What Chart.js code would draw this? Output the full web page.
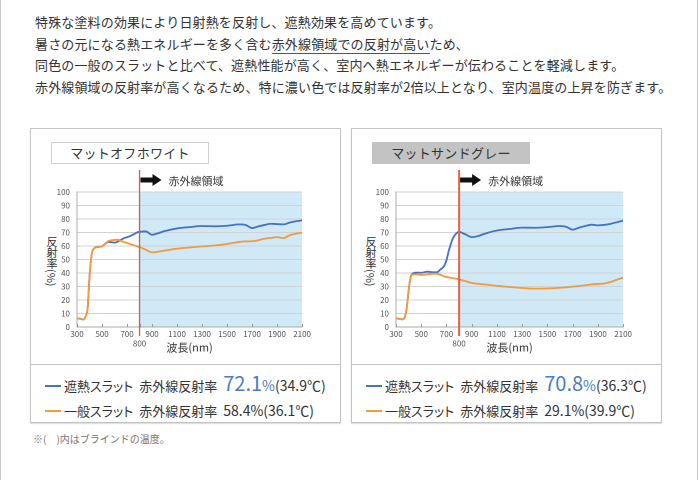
<!DOCTYPE html>
<html lang="ja">
<head>
<meta charset="utf-8">
<script src="https://cdn.jsdelivr.net/npm/chart.js@4"></script>
<style>
  body { margin: 0; background: #fff; font-family: "Noto Sans CJK JP", "Noto Sans", sans-serif; color: #333; }
  #page { position: relative; width: 696px; height: 480px; border-left: 1px solid #c8c8c8; border-right: 1px solid #c8c8c8; overflow: hidden; }
  #intro { position: absolute; left: 34px; top: 11px; font-size: 13px; letter-spacing: 0.15px; line-height: 21.7px; margin: 0; white-space: nowrap; }
  #intro u { text-decoration: none; border-bottom: 1px solid #555; }
  .panel { position: absolute; top: 128px; width: 309px; height: 293px; border: 1px solid #c4c4c4; box-shadow: 0 1px 1px rgba(0,0,0,0.12); }
  .panel .divider { position: absolute; left: 0; right: 0; top: 235px; border-top: 1px solid #c4c4c4; }
  .ptitle { position: absolute; top: 13px; left: 20px; width: 156px; height: 20px; line-height: 20px; text-align: center; font-size: 13px; letter-spacing: 0.3px; }
  .legend { position: absolute; top: 242px; left: 14px; font-size: 13px; line-height: 24px; white-space: nowrap; font-feature-settings: "palt"; }
  .legend .dash { display: inline-block; width: 16px; height: 2px; vertical-align: middle; margin-right: 3px; position: relative; top: -1px; }
  .legend .gap { display: inline-block; width: 6px; }
  .legend .big { font-size: 20px; color: #4a7cc4; }
  .legend .pct { color: #4a7cc4; font-size: 14px; }
  .legend .num { font-size: 14px; }
  .ytitle { position: absolute; top: 236px; font-size: 11px; line-height: 12px; writing-mode: vertical-rl; color: #333; }
  canvas { position: absolute; }
  #note { position: absolute; left: 32px; top: 431px; font-size: 10px; color: #777; }
</style>
</head>
<body>
<div id="page">
  <p id="intro">特殊な塗料の効果により日射熱を反射し、遮熱効果を高めています。<br>暑さの元になる熱エネルギーを多く含む<u>赤外線領域での反射が高い</u>ため、<br>同色の一般のスラットと比べて、遮熱性能が高く、室内へ熱エネルギーが伝わることを軽減します。<br>赤外線領域の反射率が高くなるため、特に濃い色では反射率が2倍以上となり、室内温度の上昇を防ぎます。</p>

  <div class="panel" style="left:29px">
    <div class="ptitle" style="background:#fff;border:1px solid #cfcfcf">マットオフホワイト</div>
    <div class="divider"></div>
    <div class="legend">
      <div><span class="dash" style="background:#4472c4"></span>遮熱スラット<span class="gap"></span>赤外線反射率<span class="gap"></span><span class="big">72.1</span><span class="pct">%</span><span class="num">(34.9℃)</span></div>
      <div><span class="dash" style="background:#f39a3c"></span>一般スラット<span class="gap"></span>赤外線反射率<span class="gap"></span><span class="num">58.4%(36.1℃)</span></div>
    </div>
  </div>
  <div class="panel" style="left:350px">
    <div class="ptitle" style="background:#c3c3c3;border:1px solid #c3c3c3">マットサンドグレー</div>
    <div class="divider"></div>
    <div class="legend">
      <div><span class="dash" style="background:#4472c4"></span>遮熱スラット<span class="gap"></span>赤外線反射率<span class="gap"></span><span class="big">70.8</span><span class="pct">%</span><span class="num">(36.3℃)</span></div>
      <div><span class="dash" style="background:#f39a3c"></span>一般スラット<span class="gap"></span>赤外線反射率<span class="gap"></span><span class="num">29.1%(39.9℃)</span></div>
    </div>
  </div>

  <div class="ytitle" style="left:45px">反射率(%)</div>
  <div class="ytitle" style="left:364px">反射率(%)</div>

  <canvas id="white" style="left:40px;top:165px;width:272px;height:190px"></canvas>
  <canvas id="gray" style="left:359px;top:165px;width:274px;height:190px"></canvas>

  <div id="note">※(　)内はブラインドの温度。</div>
</div>

<script>
// wavelength (nm) and reflectance (%)
const waveNm = [300, 330, 350, 370, 385, 400, 410, 420, 440, 460, 500, 550, 600, 630, 650, 680, 700, 720, 750, 780,
                800, 850, 900, 950, 1000, 1100, 1200, 1300, 1400, 1500, 1600, 1650, 1700, 1750, 1800, 1850, 1900, 1950, 2000, 2050, 2100];

const whiteHeat = [6.5, 6.0, 5.6, 8.0, 14, 37, 48, 55, 58.5, 59.2, 59.8, 63.0, 62.5, 63.5, 64.5, 66.0, 66.5, 67.2, 68.5, 70.0,
                   70.5, 70.8, 68.3, 69.5, 71.0, 73.0, 74.0, 74.8, 74.6, 75.0, 76.0, 75.5, 73.3, 74.5, 75.6, 76.5, 76.2, 76.0, 77.3, 78.3, 79.0];
const whiteStd  = [6.5, 6.0, 5.6, 8.0, 14, 37, 48, 55, 58.5, 59.2, 59.8, 63.6, 64.5, 64.7, 63.8, 62.8, 62.2, 61.6, 60.7, 59.8,
                   59.2, 57.3, 55.3, 55.8, 56.6, 58.0, 58.9, 59.7, 60.4, 61.5, 63.0, 63.4, 63.5, 64.3, 65.4, 66.0, 66.6, 65.8, 68.0, 69.1, 69.9];

const grayHeat = [6.3, 6.0, 5.7, 7.5, 14, 27, 34, 38, 40.0, 40.3, 40.2, 41.0, 40.5, 40.8, 42.5, 45.0, 49.5, 57.0, 65.5, 69.6,
                  70.4, 68.6, 66.6, 67.3, 69.0, 71.5, 72.6, 73.6, 73.5, 74.0, 74.8, 74.2, 72.1, 73.6, 74.8, 75.8, 75.3, 75.6, 76.4, 77.6, 78.8];
const grayStd  = [6.3, 6.0, 5.7, 7.5, 14, 27, 34, 38, 39.0, 39.0, 38.6, 39.0, 39.5, 39.3, 38.8, 37.6, 37.0, 36.7, 36.2, 35.7,
                  35.3, 34.0, 32.7, 32.0, 31.6, 30.5, 29.6, 28.9, 28.4, 28.6, 29.1, 29.4, 29.9, 30.4, 30.9, 31.6, 31.9, 32.2, 33.3, 35.0, 36.5];

const xTickValues = [300, 500, 700, 800, 900, 1100, 1300, 1500, 1700, 1900, 2100];
const irStart = 800;
const irLabel = "赤外線領域";

const FONT = '"Noto Sans CJK JP", "Noto Sans", sans-serif';

const irPlugin = {
    id: "irBand",

    beforeDraw(chart) {
        const { ctx, chartArea: a, scales: { x } } = chart;
        const x0 = x.getPixelForValue(irStart);
        ctx.save();
        ctx.fillStyle = "#cfe9f7";
        ctx.fillRect(x0, a.top, a.right - x0, a.bottom - a.top);
        ctx.restore();
    },

    afterDatasetsDraw(chart, args, opts) {
        const { ctx, chartArea: a, scales: { x } } = chart;
        const x0 = x.getPixelForValue(irStart);
        ctx.save();

        // small ticks pointing up from the x axis
        ctx.strokeStyle = "#999";
        ctx.lineWidth = 1;
        xTickValues.forEach(v => {
            const px = Math.round(x.getPixelForValue(v)) + 0.5;
            ctx.beginPath();
            ctx.moveTo(px, a.bottom);
            ctx.lineTo(px, a.bottom - 3);
            ctx.stroke();
        });

        // red boundary line
        ctx.strokeStyle = opts.lineColor;
        ctx.lineWidth = opts.lineWidth;
        ctx.beginPath();
        ctx.moveTo(x0, a.top - 22);
        ctx.lineTo(x0, a.bottom + 9);
        ctx.stroke();

        // arrow
        const ay = a.top - 12;
        ctx.fillStyle = "#111";
        ctx.fillRect(x0 + 1, ay - 2.5, 13, 5);
        ctx.beginPath();
        ctx.moveTo(x0 + 13, ay - 6);
        ctx.lineTo(x0 + 22, ay);
        ctx.lineTo(x0 + 13, ay + 6);
        ctx.closePath();
        ctx.fill();

        ctx.fillStyle = "#333";
        ctx.font = "11px " + FONT;
        ctx.textBaseline = "middle";
        ctx.fillText(irLabel, x0 + 29, ay + 1);
        ctx.restore();
    }
};


function makeChart(id, heat, std, lineColor, lineWidth) {

    const ctx = document.getElementById(id);

    return new Chart(ctx, {
        type: "line",
        data: {
            datasets: [
                {
                    label: "一般スラット",
                    data: waveNm.map((w, i) => ({ x: w, y: std[i] })),
                    borderColor: "#f39a3c",
                    borderWidth: 1.8,
                    pointRadius: 0,
                    cubicInterpolationMode: "monotone",
                    fill: false
                },
                {
                    label: "遮熱スラット",
                    data: waveNm.map((w, i) => ({ x: w, y: heat[i] })),
                    borderColor: "#4472c4",
                    borderWidth: 1.8,
                    pointRadius: 0,
                    cubicInterpolationMode: "monotone",
                    fill: false
                }
            ]
        },
        options: {
            responsive: false,
            animation: false,
            devicePixelRatio: 2,
            layout: { padding: { top: 27, right: 10, bottom: 0, left: 0 } },
            plugins: {
                legend: { display: false },
                tooltip: { enabled: false },
                irBand: { lineColor: lineColor, lineWidth: lineWidth }
            },
            scales: {
                x: {
                    type: "linear",
                    min: 300,
                    max: 2100,
                    afterBuildTicks: scale => {
                        scale.ticks = xTickValues.map(v => ({ value: v }));
                    },
                    afterFit: scale => { scale.height = 28; },
                    ticks: {
                        autoSkip: false,
                        maxRotation: 0,
                        padding: 2,
                        color: "#555",
                        font: { family: FONT, size: 8, lineHeight: 1.2 },
                        callback: v => v === irStart ? ["", String(v)] : String(v)
                    },
                    grid: { display: false, drawTicks: false },
                    border: { display: true, color: "#aaa" },
                    title: {
                        display: true,
                        text: "波長(nm)",
                        color: "#333",
                        font: { family: FONT, size: 11, lineHeight: 1.2 },
                        padding: { top: 0, bottom: 1 }
                    }
                },
                y: {
                    min: 0,
                    max: 100,
                    afterFit: scale => { scale.width = 36; },
                    ticks: {
                        stepSize: 10,
                        padding: 7,
                        color: "#555",
                        font: { family: FONT, size: 8 }
                    },
                    grid: { color: "#d2d2d2", drawTicks: false },
                    border: { display: true, color: "#aaa" }
                }
            }
        },
        plugins: [irPlugin]
    });
}

makeChart("white", whiteHeat, whiteStd, "#c9604a", 1.3);
makeChart("gray", grayHeat, grayStd, "#ee6040", 2);
</script>
</body>
</html>
